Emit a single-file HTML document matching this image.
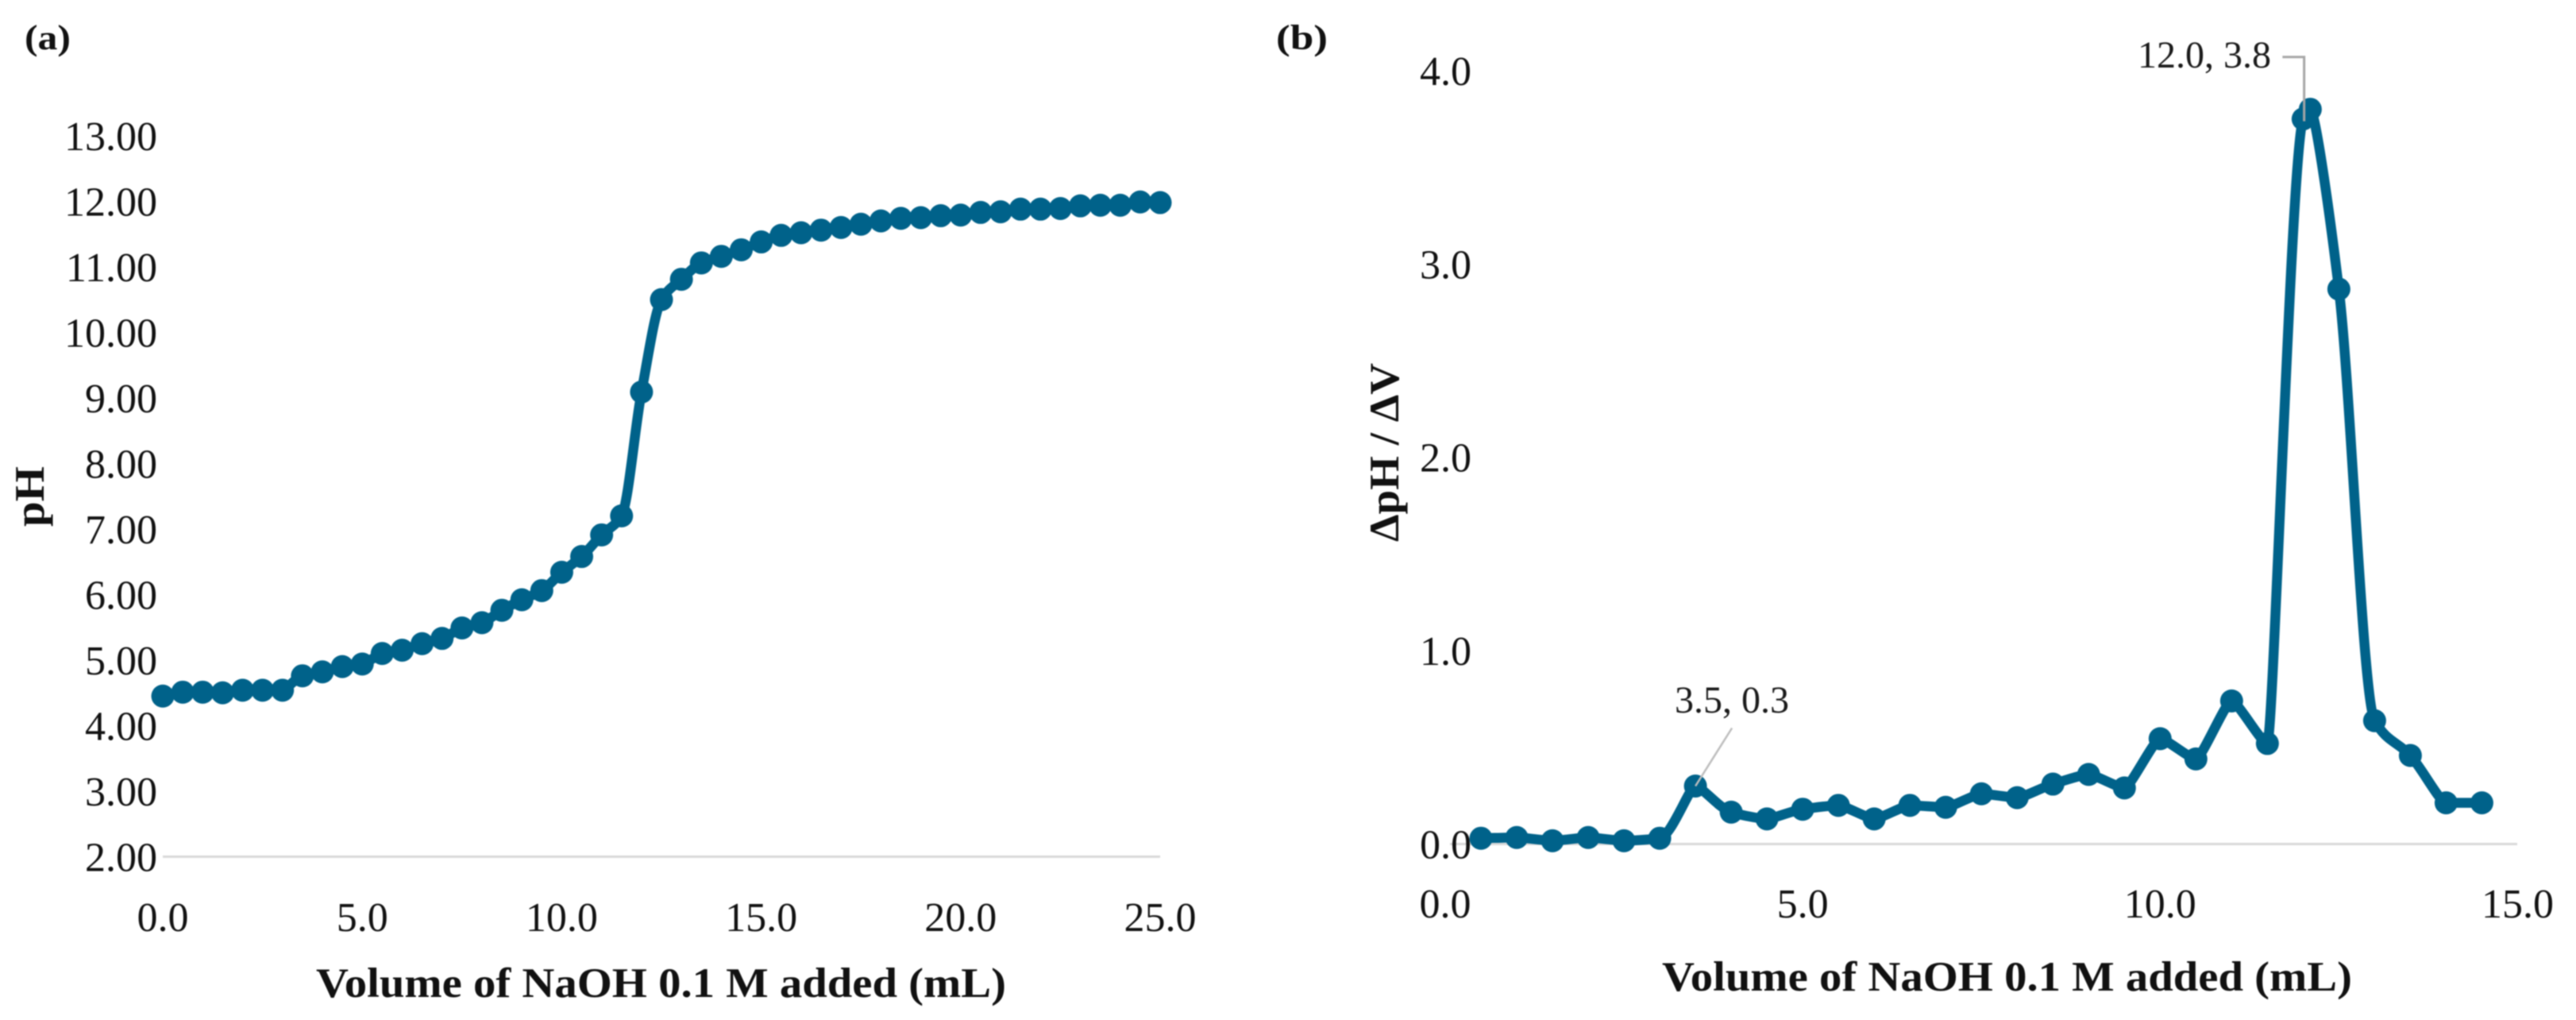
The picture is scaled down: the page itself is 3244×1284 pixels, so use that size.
<!DOCTYPE html>
<html lang="en">
<head>
<meta charset="utf-8">
<title>Titration curve and first derivative</title>
<style>
html,body{margin:0;padding:0;background:#fff;width:3244px;height:1284px;overflow:hidden}
#figure{display:block;filter:blur(0.7px)}
text{font-family:"Liberation Serif",serif;fill:#111}
.tick{font-size:52px}
.lab{font-size:48px;fill:#1a1a1a}
.title{font-size:53px;font-weight:bold}
.panel{font-size:44px;font-weight:bold}
</style>
</head>
<body>
<svg id="figure" xmlns="http://www.w3.org/2000/svg" width="3244" height="1284" viewBox="0 0 3244 1284">
  <rect width="3244" height="1284" fill="#fff"/>
  <g id="chartA"></g>
  <g id="chartB"></g>
  <text class="panel" x="31" y="62" textLength="58" lengthAdjust="spacingAndGlyphs">(a)</text>
  <text class="panel" x="1607" y="62" textLength="65" lengthAdjust="spacingAndGlyphs">(b)</text>
  <text class="title" x="398" y="1255" textLength="869" lengthAdjust="spacingAndGlyphs">Volume of NaOH 0.1 M added (mL)</text>
  <text class="title" x="2093" y="1247" textLength="869" lengthAdjust="spacingAndGlyphs">Volume of NaOH 0.1 M added (mL)</text>
  <text class="title" transform="translate(55 663) rotate(-90)" textLength="76" lengthAdjust="spacingAndGlyphs">pH</text>
  <text class="title" transform="translate(1761 682) rotate(-90)" textLength="225" lengthAdjust="spacingAndGlyphs">ΔpH / ΔV</text>
</svg>
<script>
var volumeA = [0,0.5,1,1.5,2,2.5,3,3.5,4,4.5,5,5.5,6,6.5,7,7.5,8,8.5,9,9.5,10,10.5,11,11.5,12,12.5,13,13.5,14,14.5,15,15.5,16,16.5,17,17.5,18,18.5,19,19.5,20,20.5,21,21.5,22,22.5,23,23.5,24,24.5,25];
var phValues = [4.45,4.51,4.51,4.50,4.54,4.54,4.54,4.76,4.82,4.90,4.94,5.10,5.15,5.25,5.33,5.49,5.57,5.76,5.92,6.06,6.34,6.58,6.91,7.20,9.09,10.50,10.81,11.06,11.16,11.26,11.38,11.48,11.52,11.56,11.60,11.65,11.70,11.74,11.75,11.78,11.79,11.83,11.84,11.88,11.88,11.89,11.93,11.94,11.94,11.99,11.98];
var yTicksA = [2,3,4,5,6,7,8,9,10,11,12,13];
var xTicksA = [0,5,10,15,20,25];

var volumeB = [0.5,1,1.5,2,2.5,3,3.5,4,4.5,5,5.5,6,6.5,7,7.5,8,8.5,9,9.5,10,10.5,11,11.5,12,12.1,12.5,13,13.5,14,14.5];
var derivValues = [0.03,0.034,0.017,0.034,0.017,0.03,0.30,0.165,0.13,0.18,0.20,0.13,0.20,0.19,0.26,0.24,0.31,0.36,0.29,0.545,0.44,0.74,0.52,3.75,3.80,2.87,0.638,0.458,0.213,0.213];
var yTicksB = [0,1,2,3,4];
var xTicksB = [0,5,10,15];
var annotationX = [3.5,12.0];
var annotationY = [0.3,3.8];

var NS = 'http://www.w3.org/2000/svg';
var SERIES = '#00628A';

function xa(v){ return 205 + v * 50.24; }
function ya(v){ return 1078.4 - (v - 2) * 82.5; }
function xb(v){ return 1820 + v * 90.03; }
function yb(v){ return 1062.5 - v * 243.4; }

function mk(tag, parent, attrs){
  var el = document.createElementNS(NS, tag);
  for (var k in attrs) el.setAttribute(k, attrs[k]);
  parent.appendChild(el);
  return el;
}

function smoothPath(xs, ys, fx, fy){
  var p = xs.map(function(x, i){ return [fx(x), fy(ys[i])]; });
  var n = p.length, slopes = [], flat = [];
  for (var i = 0; i < n; i++){
    var d0 = i > 0 ? (p[i][1] - p[i-1][1]) / (p[i][0] - p[i-1][0]) : null;
    var d1 = i < n - 1 ? (p[i+1][1] - p[i][1]) / (p[i+1][0] - p[i][0]) : null;
    if (d0 === null) { slopes.push(d1); flat.push(false); }
    else if (d1 === null) { slopes.push(d0); flat.push(false); }
    else if (d0 * d1 <= 0) { slopes.push(0); flat.push(true); }
    else { slopes.push(2 * d0 * d1 / (d0 + d1)); flat.push(false); }
  }
  var d = 'M' + p[0][0] + ' ' + p[0][1];
  for (var j = 0; j < n - 1; j++){
    var dx = p[j+1][0] - p[j][0];
    var h1 = flat[j] ? dx / 6 : dx / 3;
    var h2 = flat[j+1] ? dx / 6 : dx / 3;
    d += 'C' + (p[j][0] + h1) + ' ' + (p[j][1] + slopes[j] * h1) + ' ' +
         (p[j+1][0] - h2) + ' ' + (p[j+1][1] - slopes[j+1] * h2) + ' ' +
         p[j+1][0] + ' ' + p[j+1][1];
  }
  return d;
}

function drawChart(g, xs, ys, fx, fy, xTicks, yTicks, yDigits, xBase, yAnchorX, axisStart, axisEnd, baseVal){
  var axis = mk('line', g, {x1: axisStart, x2: axisEnd, y1: fy(baseVal), y2: fy(baseVal), stroke: '#d9d9d9', 'stroke-width': 3});
  
  

  yTicks.forEach(function(t){
    var el = mk('text', g, {'class': 'tick', x: yAnchorX, y: fy(t) + 18, 'text-anchor': 'end'});
    el.textContent = t.toFixed(yDigits);
    
    
  });
  xTicks.forEach(function(t){
    var el = mk('text', g, {'class': 'tick', x: fx(t), y: xBase, 'text-anchor': 'middle'});
    el.textContent = t.toFixed(1);
    
    
  });

  var line = mk('path', g, {d: smoothPath(xs, ys, fx, fy), fill: 'none', stroke: SERIES, 'stroke-width': 12.5, 'stroke-linejoin': 'round'});
  
  

  xs.forEach(function(x, i){
    var c = mk('circle', g, {cx: fx(x), cy: fy(ys[i]), r: 14.5, fill: SERIES});
    
    
  });
}

var gA = document.getElementById('chartA');
var gB = document.getElementById('chartB');

drawChart(gA, volumeA, phValues, xa, ya, xTicksA, yTicksA, 2, 1172, 198, xa(0), xa(25), 2);
drawChart(gB, volumeB, derivValues, xb, yb, xTicksB, yTicksB, 1, 1155, 1853, 1826, 3170, 0);

var leader1 = mk('polyline', gB, {points: (xb(annotationX[0]) + 46) + ',' + (yb(annotationY[0]) - 73) + ' ' + xb(annotationX[0]) + ',' + yb(annotationY[0]), fill: 'none', stroke: '#bdbdbd', 'stroke-width': 2.5});



var leader2 = mk('polyline', gB, {points: (xb(annotationX[1]) - 26) + ',71.7 ' + (xb(annotationX[1]) + 1.3) + ',71.7 ' + (xb(annotationX[1]) + 1.3) + ',' + (yb(annotationY[1]) + 15), fill: 'none', stroke: '#a6a6a6', 'stroke-width': 3});



var lab1 = mk('text', gB, {'class': 'lab', x: 2109, y: 897});
lab1.textContent = annotationX[0].toFixed(1) + ', ' + annotationY[0].toFixed(1);



var lab2 = mk('text', gB, {'class': 'lab', x: 2692, y: 85});
lab2.textContent = annotationX[1].toFixed(1) + ', ' + annotationY[1].toFixed(1);


</script>
</body>
</html>
